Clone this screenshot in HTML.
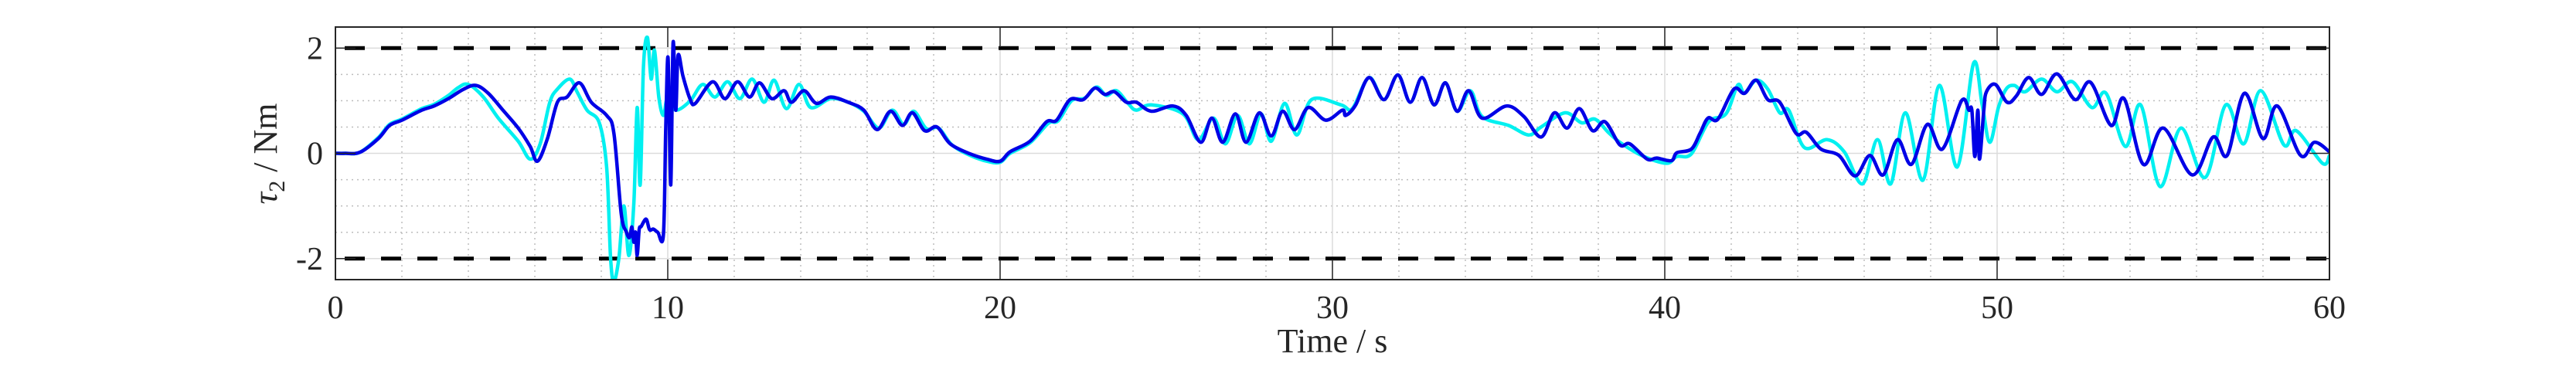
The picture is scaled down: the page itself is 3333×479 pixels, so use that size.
<!DOCTYPE html>
<html><head><meta charset="utf-8"><style>
html,body{margin:0;padding:0;background:#fff;}
svg{display:block;}
text{font-family:"Liberation Serif",serif;fill:#262626;}
</style></head><body>
<svg id="chart" width="3333" height="479" viewBox="0 0 3333 479" xmlns="http://www.w3.org/2000/svg">
<rect width="3333" height="479" fill="#fff"/>
<g id="grid"></g>
<g id="limits"></g>
<g id="series"></g>
<g id="axes"></g>
<text x="1724" y="456" font-size="44" text-anchor="middle">Time / s</text>
<text transform="translate(358,199) rotate(-90)" font-size="44" text-anchor="middle"><tspan font-style="italic">τ</tspan><tspan font-size="30" dy="10">2</tspan><tspan dy="-10"> / Nm</tspan></text>
</svg>
<script>
const xTicks = [0,10,20,30,40,50,60];
const yTicks = [-2,0,2];
const limitValues = [2,-2];
const blueT = [0,0.3,0.74,1.29,1.63,2.0,2.6,2.97,3.4,3.86,4.23,4.6,5.04,5.5,5.86,6.08,6.38,6.68,6.97,7.34,7.7,8.16,8.38,8.6,8.75,8.85,8.92,8.98,9.03,9.08,9.14,9.2,9.35,9.45,9.57,9.7,9.87,9.94,10.01,10.09,10.16,10.24,10.31,10.46,10.68,10.83,11.35,11.72,12.1,12.46,12.76,13.13,13.5,13.72,14.1,14.47,14.9,15.43,15.9,16.3,16.7,17.06,17.36,17.73,18.1,18.5,19.1,19.6,20.0,20.3,20.9,21.4,21.7,22.1,22.5,22.85,23.15,23.44,23.8,24.1,24.55,25.2,25.6,26.04,26.37,26.7,27.08,27.4,27.8,28.16,28.5,28.86,29.27,29.8,30.3,30.4,30.7,31.1,31.55,31.97,32.34,32.7,33.06,33.4,33.75,34.1,34.5,35.24,35.76,36.28,36.68,37.06,37.43,37.83,38.2,38.65,38.95,39.47,39.76,40.2,40.36,40.8,41.06,41.3,41.6,42.08,42.4,42.75,43.1,43.46,43.95,44.26,44.7,45.24,45.73,46.17,46.57,47.0,47.42,47.9,48.35,48.93,49.15,49.24,49.33,49.42,49.47,49.6,49.68,49.95,50.3,50.58,50.95,51.34,51.8,52.35,52.81,53.43,53.82,54.4,55.0,55.87,56.5,56.92,57.44,58.0,58.43,59.13,59.55,60.0];
const blueV = [0,0,0.02,0.28,0.53,0.63,0.82,0.9,1.04,1.22,1.29,1.14,0.82,0.48,0.13,-0.15,0.28,0.97,1.07,1.34,0.97,0.72,0.38,-1.15,-1.49,-1.6,-1.4,-1.69,-1.5,-1.94,-1.45,-1.39,-1.25,-1.45,-1.44,-1.5,-1.54,0.48,1.81,-0.6,2.1,0.82,1.86,1.46,1.02,0.95,1.36,1.04,1.36,1.07,1.34,1.04,1.19,0.97,1.19,0.95,1.07,0.97,0.82,0.45,0.8,0.53,0.77,0.43,0.5,0.18,-0.01,-0.11,-0.15,0.03,0.23,0.6,0.63,1.02,1.02,1.24,1.12,1.17,0.97,0.97,0.8,0.9,0.72,0.21,0.67,0.21,0.75,0.21,0.77,0.33,0.8,0.45,0.87,0.63,0.82,0.72,0.92,1.44,1.02,1.49,0.97,1.44,0.92,1.34,0.8,1.19,0.67,0.9,0.7,0.31,0.77,0.48,0.85,0.43,0.6,0.16,0.18,-0.11,-0.09,-0.14,0.01,0.08,0.38,0.67,0.65,1.22,1.14,1.39,1.02,0.97,0.38,0.4,0.08,-0.04,-0.43,-0.04,-0.41,0.26,-0.21,0.55,0.08,1.0,0.82,0.82,-0.06,0.82,-0.11,0.82,1.17,1.31,0.97,1.09,1.44,1.12,1.51,1.02,1.35,0.53,1.04,-0.21,0.48,-0.41,0.31,-0.04,1.14,0.28,0.9,-0.04,0.21,0.03];
const cyanT = [0,0.3,0.74,1.29,1.63,2.0,2.6,2.97,3.4,3.7,4.0,4.45,4.9,5.5,5.86,6.16,6.45,6.68,7.05,7.27,7.57,7.94,8.16,8.28,8.38,8.53,8.68,8.83,8.98,9.08,9.17,9.27,9.39,9.5,9.6,9.73,9.87,10.0,10.24,10.68,11.05,11.42,11.8,12.17,12.54,12.9,13.2,13.57,13.95,14.3,14.9,15.43,15.9,16.35,16.75,17.1,17.4,17.78,18.15,18.55,19.1,19.6,20.0,20.3,20.9,21.45,21.75,22.15,22.55,22.9,23.2,23.5,23.85,24.1,24.55,25.5,25.96,26.42,26.78,27.15,27.5,27.85,28.16,28.56,28.93,29.37,30.26,30.6,31.1,31.55,31.97,32.34,32.7,33.06,33.4,33.75,34.15,34.5,35.3,35.9,36.28,37.0,37.5,37.9,38.3,38.65,39.3,40.05,40.36,40.8,41.32,41.84,42.2,42.4,42.75,43.1,43.46,43.73,44.2,44.88,45.4,45.95,46.4,46.8,47.24,47.77,48.26,48.8,49.29,49.55,49.78,50.04,50.27,50.52,50.84,51.34,51.8,52.27,52.85,53.28,53.86,54.32,54.9,55.53,56.26,56.88,57.42,57.93,58.63,59.0,59.79,60.0];
const cyanV = [0,0,0.02,0.3,0.55,0.65,0.85,0.93,1.1,1.25,1.31,1.07,0.67,0.23,-0.11,0.18,0.97,1.22,1.41,1.17,0.82,0.58,-0.26,-1.99,-2.43,-1.99,-1.0,-1.94,-0.95,0.87,-0.6,1.66,2.2,1.41,1.96,1.07,0.72,1.07,0.82,1.0,1.31,1.07,1.36,1.04,1.41,0.97,1.39,0.85,1.31,0.87,1.04,0.97,0.8,0.48,0.82,0.55,0.8,0.47,0.48,0.16,-0.04,-0.15,-0.17,0.0,0.2,0.57,0.62,1.0,1.05,1.26,1.1,1.19,0.95,0.82,0.92,0.75,0.26,0.67,0.18,0.72,0.18,0.75,0.23,0.95,0.35,1.02,0.92,0.85,1.44,1.02,1.49,0.97,1.44,0.92,1.34,0.8,1.19,0.7,0.53,0.35,0.5,0.77,0.58,0.65,0.4,0.21,-0.04,-0.19,-0.06,-0.01,0.6,0.75,1.3,1.14,1.39,1.22,0.77,0.82,0.11,0.26,0.03,-0.58,0.26,-0.58,0.77,-0.51,1.29,-0.26,1.71,0.92,0.21,0.87,1.22,1.29,1.17,1.41,1.17,1.36,0.87,1.14,0.13,0.92,-0.63,0.48,-0.46,0.92,0.18,1.19,0.16,0.43,-0.19,-0.04];

const L=434,R=3014,T=35,B=362,XMIN=0,XMAX=60,YMIN=-2.4,YMAX=2.4;
const xs=t=>L+(t-XMIN)/(XMAX-XMIN)*(R-L);
const ys=v=>B-(v-YMIN)/(YMAX-YMIN)*(B-T);
const NS='http://www.w3.org/2000/svg';
function mk(parent,tag,attrs){const e=document.createElementNS(NS,tag);for(const k in attrs)e.setAttribute(k,attrs[k]);parent.appendChild(e);return e;}
const grid=document.getElementById('grid'),axes=document.getElementById('axes'),lim=document.getElementById('limits'),ser=document.getElementById('series');
for(let t=2;t<60;t+=2){ if(t%10===0) continue;
  const g=mk(grid,'line',{x1:xs(t),x2:xs(t),y1:T,y2:B,stroke:'#bdbdbd','stroke-width':1.5,'stroke-dasharray':'2 5'});
  
  }
for(let v=-2;v<=2;v+=0.5){ if(Math.abs(v%2)<1e-9) continue;
  const g=mk(grid,'line',{x1:L,x2:R,y1:ys(v),y2:ys(v),stroke:'#bdbdbd','stroke-width':1.5,'stroke-dasharray':'2 5'});
  
  }
xTicks.forEach(t=>{
  const g=mk(grid,'line',{x1:xs(t),x2:xs(t),y1:T,y2:B,stroke:'#dcdcdc','stroke-width':1.5});
  
  
  const a=mk(axes,'path',{d:`M${xs(t)},${T}v26M${xs(t)},${B}v-26`,stroke:'#262626','stroke-width':1.5,fill:'none'});
  
  
  const tx=mk(axes,'text',{x:xs(t),y:412,'font-size':42,'text-anchor':'middle'});tx.textContent=t;
  
  });
yTicks.forEach(v=>{
  const g=mk(grid,'line',{x1:L,x2:R,y1:ys(v),y2:ys(v),stroke:'#dcdcdc','stroke-width':1.5});
  
  
  const a=mk(axes,'path',{d:`M${L},${ys(v)}h26M${R},${ys(v)}h-26`,stroke:'#262626','stroke-width':1.5,fill:'none'});
  
  
  const tx=mk(axes,'text',{x:418,y:ys(v)+14,'font-size':42,'text-anchor':'end'});tx.textContent=v;
  
  });
limitValues.forEach(v=>{
  const l=mk(lim,'line',{x1:L+12,x2:R,y1:ys(v),y2:ys(v),stroke:'#000','stroke-width':5,'stroke-dasharray':'26 21'});
  
  });
function line(tA,vA,color,w,name){
  const P=tA.map((t,i)=>[xs(t),ys(Math.max(YMIN-0.05,Math.min(YMAX+0.05,vA[i])))]);
  let d='M'+P[0][0].toFixed(1)+','+P[0][1].toFixed(1);
  for(let i=0;i<P.length-1;i++){
    const p0=P[Math.max(0,i-1)],p1=P[i],p2=P[i+1],p3=P[Math.min(P.length-1,i+2)];
    const c1=[p1[0]+(p2[0]-p0[0])/6,p1[1]+(p2[1]-p0[1])/6];
    const c2=[p2[0]-(p3[0]-p1[0])/6,p2[1]-(p3[1]-p1[1])/6];
    c1[0]=Math.min(Math.max(c1[0],p1[0]),p2[0]);c2[0]=Math.min(Math.max(c2[0],p1[0]),p2[0]);
    d+='C'+c1[0].toFixed(1)+','+c1[1].toFixed(1)+' '+c2[0].toFixed(1)+','+c2[1].toFixed(1)+' '+p2[0].toFixed(1)+','+p2[1].toFixed(1);
  }
  const p=mk(ser,'path',{d:d,stroke:color,'stroke-width':w,fill:'none','stroke-linejoin':'round'});
  
  }
const clip=mk(document.getElementById('chart'),'clipPath',{id:'pc'});
mk(clip,'rect',{x:L,y:T,width:R-L,height:B-T});
ser.setAttribute('clip-path','url(#pc)');
line(cyanT,cyanV,'#00f0f0',4.5,'cyan-series-line');
line(blueT,blueV,'#0000e6',4.5,'blue-series-line');
const box=mk(axes,'rect',{x:L,y:T,width:R-L,height:B-T,fill:'none',stroke:'#262626','stroke-width':2});


</script>
</body></html>
